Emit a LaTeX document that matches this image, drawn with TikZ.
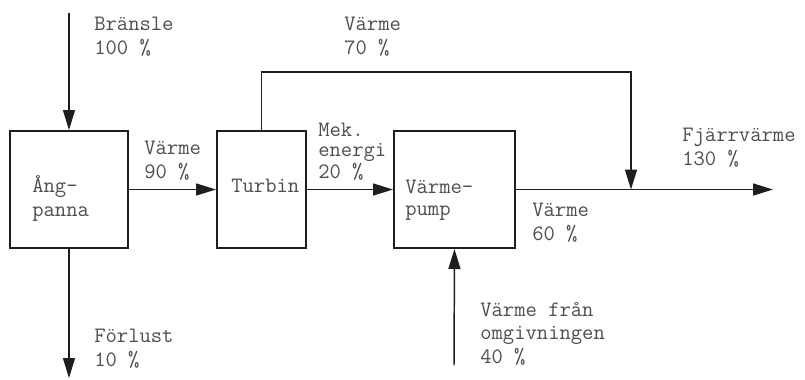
\documentclass[tikz,border=0pt]{standalone}
\usetikzlibrary{arrows.meta,positioning}
\definecolor{vpline}{HTML}{1E1E1E}
\definecolor{vptext}{HTML}{4E4E4E}
\tikzset{
  blk/.style={draw=vpline,line width=1.5pt,minimum height=87.75pt,inner sep=0pt},
  txt/.style={text=vptext,align=left,inner sep=0pt,anchor=base west,
              font=\ttfamily\fontsize{16.5}{17.6}\selectfont},
  flow/.style={-{Triangle[length=15pt,width=9pt]},line width=1.1pt,vpline},
}
\begin{document}
\begin{tikzpicture}[x=0.75pt,y=-0.75pt]
  \useasboundingbox (0,0) rectangle (805,379);
  \node[blk,minimum width=88.5pt] (pan) at (69,189.5) {};
  \node[blk,minimum width=66.75pt] (tur) at (261.5,189.5) {};
  \node[blk,minimum width=90.75pt] (pump) at (454.5,189.5) {};
  \node[txt] (panT) at (32,216) {Ång-\\panna};
  \node[txt] (turT) at (231,192) {Turbin};
  \node[txt,font=\ttfamily\fontsize{16.5}{16.5}\selectfont] (pumpT) at (405,215) {Värme-\\pump};
  \coordinate (fuel) at (69,13);
  \coordinate (loss) at (69,378);
  \coordinate (top) at (631,72);
  \coordinate (join) at (631,189.5);
  \coordinate (out) at (773,189.5);
  \coordinate (env) at (454,365);
  \draw[flow] (fuel) -- (pan.north);
  \draw[flow] (pan.south) -- (loss);
  \draw[flow] (pan.east) -- (tur.west);
  \draw[flow] (tur.east) -- (pump.west);
  \draw[flow] (tur.north) |- (top) -- (join);
  \draw[flow] (pump.east) -- (out);
  \draw[flow] (env) -- (pump.south);
  \node[txt] (fuelL) at (94,54.3) {Bränsle\\100 \%};
  \node[txt] (heat90) at (144,178) {Värme\\90 \%};
  \node[txt] (lossL) at (94,366) {Förlust\\10 \%};
  \node[txt] (heat70) at (344,54) {Värme\\70 \%};
  \node[txt,font=\ttfamily\fontsize{16.5}{15}\selectfont] (mekL) at (318,178) {Mek.\\energi\\20 \%};
  \node[txt] (heat60) at (532,240) {Värme\\60 \%};
  \node[txt] (distL) at (682,165) {Fjärrvärme\\130 \%};
  \node[txt] (envL) at (480,363) {Värme från\\omgivningen\\40 \%};
\end{tikzpicture}
\end{document}
